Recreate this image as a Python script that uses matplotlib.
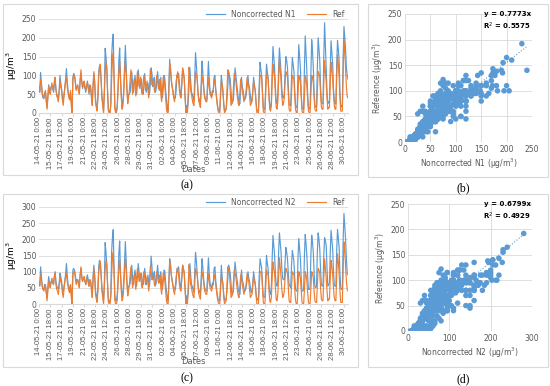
import matplotlib
matplotlib.use("Agg")
import matplotlib.pyplot as plt
from matplotlib.patches import Rectangle
import numpy as np

# 3-hourly values from 14-05-21 0:00 to 30-06-21 21:00 (one line = 2 days)
ref = [
    70, 60, 90, 75, 55, 45, 40, 50,     60, 35, 10, 40, 70, 55, 50, 65,
    80, 70, 60, 85, 95, 60, 45, 40,     30, 55, 85, 70, 60, 35, 20, 45,
    70, 85, 95, 70, 55, 40, 35, 60,     20, 0, 90, 100, 100, 80, 60, 70,
    75, 60, 50, 90, 115, 85, 70, 80,    85, 70, 60, 75, 80, 65, 55, 75,
    70, 40, 20, 70, 110, 80, 30, 15,    5, 40, 95, 120, 130, 90, 40, 20,
    0, 50, 110, 135, 120, 60, 5, 0,     0, 20, 90, 140, 160, 100, 10, 0,
    0, 15, 60, 110, 135, 90, 40, 10,    20, 50, 100, 138, 110, 60, 25, 40,
    60, 90, 115, 80, 50, 70, 90, 70,    45, 80, 110, 95, 70, 85, 95, 60,
    50, 75, 100, 80, 60, 70, 85, 65,    40, 70, 115, 100, 75, 80, 90, 60,
    55, 80, 100, 85, 65, 75, 90, 50,    30, 60, 95, 90, 70, 40, 10, 0,
    0, 60, 130, 120, 90, 70, 55, 40,    30, 55, 85, 100, 110, 90, 60, 45,
    40, 80, 120, 110, 95, 50, 0, 15,    0, 60, 122, 95, 60, 50, 35, 25,
    20, 60, 110, 100, 90, 60, 30, 25,   15, 55, 100, 90, 70, 45, 35, 30,
    30, 65, 95, 70, 50, 45, 40, 55,     60, 90, 90, 60, 40, 20, 5, 0,
    0, 40, 85, 75, 60, 20, 0, 5,        10, 60, 115, 110, 95, 60, 20, 25,
    30, 70, 105, 95, 85, 60, 40, 25,    20, 55, 90, 75, 60, 45, 30, 40,
    45, 70, 95, 80, 70, 45, 20, 25,     30, 55, 85, 70, 60, 30, 0, 0,
    0, 55, 100, 100, 95, 50, 5, 0,      0, 55, 105, 95, 90, 45, 10, 5,
    20, 80, 130, 110, 95, 50, 15, 10,   30, 90, 143, 115, 85, 45, 20, 25,
    40, 80, 110, 105, 95, 55, 10, 5,    5, 55, 100, 95, 90, 45, 10, 0,
    0, 50, 100, 95, 80, 40, 5, 0,       0, 45, 100, 90, 70, 35, 5, 0,
    0, 50, 100, 95, 80, 40, 10, 5,      5, 60, 110, 105, 95, 50, 15, 10,
    10, 80, 140, 110, 80, 40, 10, 15,   15, 80, 135, 115, 90, 50, 20, 10,
    10, 90, 155, 130, 95, 40, 5, 5,     5, 110, 192, 165, 120, 70, 45, 40,
]
n1 = [
    65, 55, 108, 80, 50, 40, 38, 55,    55, 30, 15, 45, 75, 60, 60, 70,
    70, 65, 55, 75, 85, 65, 50, 45,     40, 60, 100, 80, 65, 40, 30, 50,
    65, 90, 118, 85, 60, 45, 40, 55,    30, 10, 95, 105, 100, 85, 65, 70,
    70, 60, 55, 85, 105, 80, 65, 75,    75, 65, 55, 70, 85, 70, 50, 70,
    65, 45, 30, 75, 105, 85, 40, 20,    10, 45, 110, 125, 120, 85, 45, 25,
    5, 60, 172, 150, 120, 50, 10, 5,    0, 25, 150, 190, 210, 100, 20, 5,
    5, 20, 70, 140, 173, 95, 50, 15,    30, 60, 120, 180, 130, 65, 35, 50,
    50, 55, 85, 110, 75, 55, 80, 100,   75, 50, 75, 115, 90, 65, 80, 90,
    55, 50, 70, 105, 75, 55, 65, 80,    60, 50, 80, 120, 105, 70, 85, 95,
    55, 60, 85, 110, 80, 60, 70, 95,    50, 40, 65, 100, 90, 60, 35, 15,
    5, 70, 143, 115, 85, 70, 60, 45,    40, 40, 60, 100, 95, 105, 80, 55,
    45, 75, 115, 105, 90, 45, 10, 20,   10, 30, 75, 120, 85, 55, 50, 40,
    30, 90, 160, 130, 95, 55, 40, 35,   25, 75, 138, 110, 75, 50, 40, 35,
    35, 85, 137, 90, 60, 50, 45, 60,    55, 95, 100, 65, 45, 25, 10, 5,
    5, 50, 100, 80, 55, 25, 5, 10,      10, 35, 70, 110, 100, 90, 60, 25,
    30, 35, 80, 120, 100, 80, 60, 40,   30, 25, 60, 95, 70, 60, 45, 35,
    40, 50, 70, 100, 75, 65, 45, 30,    35, 60, 95, 75, 60, 30, 5, 5,
    10, 80, 135, 115, 100, 55, 15, 10,  10, 75, 130, 110, 95, 50, 20, 15,
    30, 110, 177, 150, 120, 70, 30, 25, 45, 120, 173, 140, 110, 65, 40, 40,
    50, 110, 150, 140, 120, 70, 25, 20, 20, 95, 148, 130, 110, 60, 20, 15,
    15, 110, 182, 150, 120, 55, 15, 10, 10, 120, 205, 160, 110, 50, 15, 10,
    15, 110, 195, 165, 120, 55, 20, 15, 20, 120, 200, 170, 140, 70, 30, 25,
    25, 150, 240, 180, 120, 55, 25, 30, 30, 120, 192, 160, 130, 65, 35, 25,
    25, 130, 193, 170, 140, 60, 15, 20, 20, 150, 230, 200, 170, 120, 100, 90,
]
n2 = [
    60, 55, 115, 85, 55, 45, 45, 60,    55, 35, 20, 55, 85, 65, 60, 70,
    70, 65, 60, 85, 100, 70, 55, 50,    45, 65, 95, 85, 70, 45, 35, 55,
    70, 95, 125, 90, 60, 50, 45, 60,    35, 15, 105, 110, 105, 90, 70, 75,
    75, 65, 60, 90, 110, 85, 70, 80,    80, 70, 60, 80, 90, 75, 55, 75,
    70, 50, 35, 85, 120, 90, 45, 25,    15, 50, 115, 135, 130, 90, 50, 30,
    10, 70, 190, 160, 125, 55, 15, 10,  5, 30, 160, 205, 230, 110, 25, 10,
    10, 30, 80, 160, 195, 100, 55, 20,  35, 70, 125, 193, 140, 70, 40, 55,
    55, 65, 95, 120, 80, 60, 85, 105,   80, 55, 85, 125, 100, 70, 85, 95,
    65, 60, 80, 110, 85, 60, 70, 90,    65, 55, 95, 148, 115, 75, 90, 100,
    60, 60, 90, 120, 90, 65, 80, 100,   60, 45, 70, 105, 100, 65, 40, 20,
    10, 75, 140, 125, 90, 75, 60, 50,   50, 45, 65, 110, 110, 115, 85, 60,
    50, 80, 120, 110, 95, 50, 15, 25,   15, 35, 80, 125, 90, 60, 55, 45,
    35, 95, 160, 135, 100, 60, 45, 40,  30, 80, 140, 115, 80, 55, 45, 40,
    40, 90, 143, 95, 65, 55, 50, 65,    60, 110, 115, 75, 50, 30, 15, 10,
    10, 60, 120, 85, 60, 30, 10, 15,    15, 40, 75, 120, 110, 95, 65, 30,
    35, 40, 90, 130, 105, 85, 65, 45,   35, 30, 70, 105, 75, 65, 50, 40,
    45, 55, 75, 100, 80, 70, 50, 35,    40, 65, 100, 80, 65, 35, 10, 15,
    20, 90, 140, 125, 110, 60, 25, 20,  25, 90, 150, 125, 110, 60, 35, 30,
    55, 140, 212, 180, 150, 95, 60, 55, 70, 160, 220, 190, 160, 110, 80, 75,
    75, 130, 175, 160, 140, 95, 60, 55, 50, 120, 165, 150, 130, 80, 45, 40,
    40, 140, 203, 170, 140, 80, 40, 40, 45, 150, 215, 185, 150, 85, 45, 45,
    50, 150, 213, 190, 160, 95, 55, 50, 55, 160, 220, 200, 170, 105, 60, 55,
    60, 150, 205, 195, 180, 110, 55, 60, 65, 160, 228, 200, 170, 100, 60, 55,
    55, 165, 230, 205, 175, 95, 50, 45, 45, 200, 280, 240, 200, 140, 95, 90,
]

tick_labels = [
    "14-05-21 0:00", "15-05-21 18:00", "17-05-21 12:00", "19-05-21 6:00",
    "21-05-21 0:00", "22-05-21 18:00", "24-05-21 12:00", "26-05-21 6:00",
    "28-05-21 0:00", "29-05-21 18:00", "31-05-21 12:00", "02-06-21 6:00",
    "04-06-21 0:00", "05-06-21 18:00", "07-06-21 12:00", "09-06-21 6:00",
    "11-06-21 0:00", "12-06-21 18:00", "14-06-21 12:00", "16-06-21 6:00",
    "18-06-21 0:00", "19-06-21 18:00", "21-06-21 12:00", "23-06-21 6:00",
    "25-06-21 0:00", "26-06-21 18:00", "28-06-21 12:00", "30-06-21 6:00",
]

slope_n1, r2_n1 = 0.7773, 0.5575
slope_n2, r2_n2 = 0.6799, 0.4929

BLUE = "#5B9BD5"
ORANGE = "#ED7D31"
GRID = "#D9D9D9"
TXT = "#595959"

W, H = 550, 386
fig = plt.figure(figsize=(5.5, 3.86), dpi=100)


def px_axes(left, top, right, bottom):
    return fig.add_axes([left / W, 1 - bottom / H, (right - left) / W, (bottom - top) / H])


def px_box(left, top, right, bottom):
    fig.patches.append(Rectangle((left / W, 1 - bottom / H), (right - left) / W, (bottom - top) / H,
                                 transform=fig.transFigure, fill=False, edgecolor=GRID, lw=0.8))


def px_text(x, y, s, **kw):
    fig.text(x / W, 1 - y / H, s, ha="center", va="center", **kw)


def style_common(ax):
    for s in ax.spines.values():
        s.set_visible(False)
    ax.tick_params(colors=TXT, labelsize=5.5, length=0, pad=2)
    ax.set_axisbelow(True)


def line_panel(ax, sensor, name, ymax):
    x = np.arange(len(ref))
    ax.plot(x, sensor, color=BLUE, lw=0.85, label=name)
    ax.plot(x, ref, color=ORANGE, lw=0.85, label="Ref")
    ax.set_xlim(0, len(ref) - 1)
    ax.set_ylim(0, ymax)
    ax.set_yticks(np.arange(0, ymax + 1, 50))
    ax.set_xticks(np.arange(len(tick_labels)) * 14)  # one label every 42 h
    ax.set_xticklabels(tick_labels, rotation=90, fontsize=3.5, family="Liberation Sans")
    style_common(ax)
    ax.spines["bottom"].set_visible(True)
    ax.spines["bottom"].set_color(GRID)
    ax.tick_params(axis="x", length=2, color=GRID, pad=1)
    ax.yaxis.grid(True, color=GRID, lw=0.6)
    ax.set_ylabel("μg/m$^3$", fontsize=6.5, color="black", labelpad=2)
    ax.legend(loc="lower right", bbox_to_anchor=(1.0, 0.97), ncol=2, frameon=False,
              fontsize=5.5, handlelength=2.5, columnspacing=1.5, borderaxespad=0, labelcolor=TXT)


def scatter_panel(ax, sensor, name, xmax, xstep, slope, r2):
    ax.scatter(sensor, ref, s=16, color=BLUE, edgecolors="none", zorder=3)
    xs = np.array([0, max(sensor)])
    ax.plot(xs, slope * xs, ls=":", color=BLUE, lw=0.8, zorder=4)
    ax.set_xlim(0, xmax)
    ax.set_ylim(0, 250)
    ax.set_xticks(np.arange(0, xmax + 1, xstep))
    ax.set_yticks(np.arange(0, 251, 50))
    style_common(ax)
    ax.grid(True, color=GRID, lw=0.6)
    ax.set_xlabel(f"{name} (μg/m$^3$)", fontsize=5.5, color=TXT, labelpad=2)
    ax.set_ylabel("Reference (μg/m$^3$)", fontsize=5.5, color=TXT, labelpad=2)
    ax.text(0.99, 1.02, f"y = {slope:.4f}x\nR$^2$ = {r2:.4f}", transform=ax.transAxes,
            ha="right", va="top", fontsize=5, fontweight="bold", linespacing=1.4)


px_box(3, 4, 358, 175)
px_box(368, 4, 548, 177)
px_box(3, 194, 358, 367)
px_box(368, 194, 548, 367)

ax_a = px_axes(39, 19, 348, 113)
line_panel(ax_a, n1, "Noncorrected N1", 250)
ax_c = px_axes(39, 207, 348, 304)
line_panel(ax_c, n2, "Noncorrected N2", 300)
px_text(193, 170, "Dates", fontsize=6, color=TXT)
px_text(193, 361.5, "Dates", fontsize=6, color=TXT)

ax_b = px_axes(405, 14, 532, 142)
scatter_panel(ax_b, n1, "Noncorrected N1", 250, 50, slope_n1, r2_n1)
ax_d = px_axes(408, 204, 532, 331)
scatter_panel(ax_d, n2, "Noncorrected N2", 300, 100, slope_n2, r2_n2)

for lab, (x, y) in zip(["(a)", "(b)", "(c)", "(d)"],
                       [(187, 185), (463, 188), (187, 378), (463, 379)]):
    px_text(x, y, lab, fontsize=8.5, family="Liberation Serif")

fig.savefig("out.png", dpi=100)
